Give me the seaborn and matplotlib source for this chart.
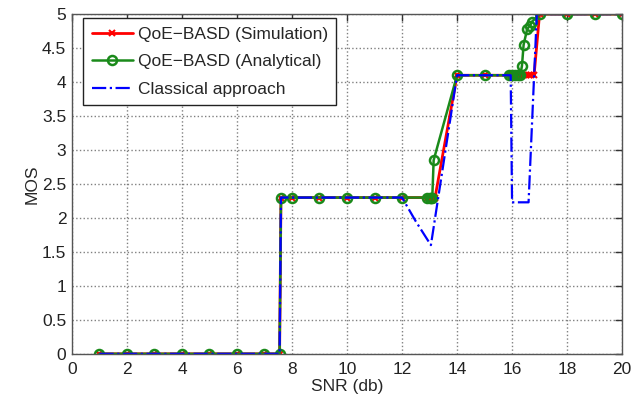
import numpy as np
import pandas as pd
import seaborn as sns
import matplotlib.pyplot as plt

# values
sim_x = [1, 2, 3, 4, 5, 6, 7, 7.55, 7.6, 8, 9, 10, 11, 12, 12.9, 13.0, 13.05, 13.1, 13.2,
         14, 15, 15.9, 16.0, 16.1, 16.2, 16.3, 16.4, 16.5, 16.6, 16.7, 16.8, 17, 18, 19, 20]
sim_y = [0, 0, 0, 0, 0, 0, 0, 0, 2.3, 2.3, 2.3, 2.3, 2.3, 2.3, 2.3, 2.3, 2.3, 2.3, 2.3,
         4.1, 4.1, 4.1, 4.1, 4.1, 4.1, 4.1, 4.1, 4.1, 4.1, 4.1, 4.1, 5, 5, 5, 5]

ana_x = [1, 2, 3, 4, 5, 6, 7, 7.55, 7.6, 8, 9, 10, 11, 12, 12.9, 13.0, 13.05, 13.1, 13.15,
         14, 15, 15.9, 16.0, 16.1, 16.2, 16.3, 16.36, 16.42, 16.55, 16.65, 16.73, 17, 18, 19, 20]
ana_y = [0, 0, 0, 0, 0, 0, 0, 0, 2.3, 2.3, 2.3, 2.3, 2.3, 2.3, 2.3, 2.3, 2.3, 2.3, 2.85,
         4.1, 4.1, 4.1, 4.1, 4.1, 4.1, 4.1, 4.24, 4.55, 4.78, 4.83, 4.89, 5, 5, 5, 5]

cls_x = [1, 2, 3, 4, 5, 6, 7, 7.55, 7.6, 8, 9, 10, 11, 12, 12.5, 13.05,
         14, 15, 15.95, 16.0, 16.6, 16.9, 17, 18, 19, 20]
cls_y = [0, 0, 0, 0, 0, 0, 0, 0, 2.3, 2.3, 2.3, 2.3, 2.3, 2.3, 1.95, 1.6,
         4.1, 4.1, 4.1, 2.23, 2.23, 5, 5, 5, 5, 5]

sim_df = pd.DataFrame({'SNR': sim_x, 'MOS': sim_y})
ana_df = pd.DataFrame({'SNR': ana_x, 'MOS': ana_y})
cls_df = pd.DataFrame({'SNR': cls_x, 'MOS': cls_y})

sns.set_style('white')
plt.rcParams['font.family'] = ['Liberation Sans', 'DejaVu Sans']

fig = plt.figure(figsize=(6.42, 4.03), dpi=100)
ax = fig.add_axes([0.112, 0.122, 0.857, 0.843])

sns.lineplot(data=sim_df, x='SNR', y='MOS', ax=ax, sort=False, estimator=None,
             color='#ff0000', linewidth=2, marker='x', markersize=4,
             markeredgewidth=1.5, markeredgecolor='#ff0000',
             label='QoE\u2212BASD (Simulation)')
sns.lineplot(data=ana_df, x='SNR', y='MOS', ax=ax, sort=False, estimator=None,
             color='#1a8a1a', linewidth=1.8, marker='o', markersize=6.5,
             markerfacecolor='none', markeredgecolor='#1a8a1a', markeredgewidth=1.8,
             label='QoE\u2212BASD (Analytical)')
sns.lineplot(data=cls_df, x='SNR', y='MOS', ax=ax, sort=False, estimator=None,
             color='#0000ff', linewidth=1.6, linestyle='-.',
             label='Classical approach')

ax.set_xlim(0, 20)
ax.set_ylim(0, 5)
ax.set_xticks(np.arange(0, 21, 2))
ax.set_yticks(np.arange(0, 5.01, 0.5))
ax.set_yticklabels(['0', '0.5', '1', '1.5', '2', '2.5', '3', '3.5', '4', '4.5', '5'])
ax.set_xlabel('SNR (db)', fontsize=12.5, labelpad=1)
ax.set_ylabel('MOS', fontsize=12.5, labelpad=2)

ax.grid(True, linestyle=':', color='#808080', linewidth=1)
ax.tick_params(direction='in', length=5, width=1, top=True, right=True,
               labelsize=12.5, colors='#333333', labelcolor='#222222', pad=4)
ax.tick_params(axis='x', pad=6)
for sp in ax.spines.values():
    sp.set_color('#555555')
    sp.set_linewidth(1)

leg = ax.legend(loc='upper left', bbox_to_anchor=(0.02, 0.988), fontsize=12.5,
                frameon=True, fancybox=False, framealpha=1, edgecolor='#222222',
                handlelength=2.4, handletextpad=0.25, labelspacing=0.7,
                borderpad=0.5, borderaxespad=0)
leg.get_frame().set_linewidth(1)

fig.savefig('out.png', dpi=100)
